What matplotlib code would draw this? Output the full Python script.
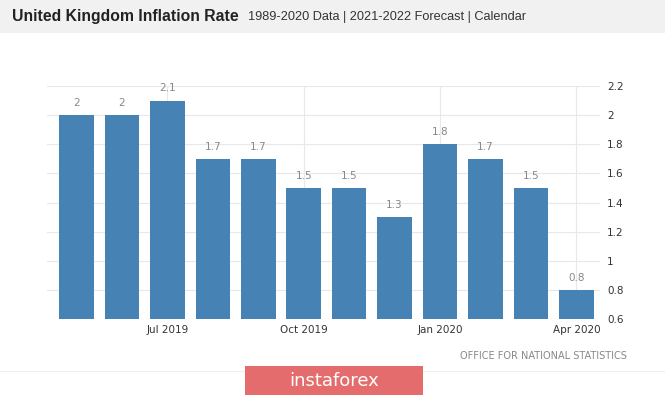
import numpy as np
import matplotlib.pyplot as plt
from matplotlib.patches import Rectangle

months = ["May 2019", "Jun 2019", "Jul 2019", "Aug 2019", "Sep 2019", "Oct 2019",
          "Nov 2019", "Dec 2019", "Jan 2020", "Feb 2020", "Mar 2020", "Apr 2020"]
inflation = [2.0, 2.0, 2.1, 1.7, 1.7, 1.5, 1.5, 1.3, 1.8, 1.7, 1.5, 0.8]
tick_idx = [2, 5, 8, 11]
yticks = [0.6, 0.8, 1.0, 1.2, 1.4, 1.6, 1.8, 2.0, 2.2]

W, H = 665, 397
fig = plt.figure(figsize=(W / 100, H / 100), dpi=100)
fig.patch.set_facecolor("white")

# header band
fig.patches.append(Rectangle((0, 1 - 33 / H), 1, 33 / H, transform=fig.transFigure,
                             facecolor="#f1f1f1", edgecolor="none", zorder=0))
fig.text(12 / W, 1 - 17 / H, "United Kingdom Inflation Rate", fontsize=11.3,
         fontweight="bold", color="#222222", va="center", ha="left",
         family="Liberation Sans")
fig.text(248 / W, 1 - 17 / H, "1989-2020 Data | 2021-2022 Forecast | Calendar",
         fontsize=9.2, color="#333333", va="center", ha="left",
         family="Liberation Sans")

ax = fig.add_axes([47 / W, (H - 319) / H, (600 - 47) / W, (319 - 86) / H])
x = np.arange(len(inflation))
bars = ax.bar(x, inflation, width=0.76, color="#4682b4", zorder=2)
for xi, v in zip(x, inflation):
    ax.text(xi, v + 0.05, f"{v:g}", ha="center", va="bottom", fontsize=7.5,
            color="#888888", zorder=3)

ax.set_xlim(-0.65, 11.52)
ax.set_ylim(0.6, 2.2)
ax.set_yticks(yticks)
ax.set_yticklabels([f"{t:g}" for t in yticks])
ax.yaxis.tick_right()
ax.set_xticks(tick_idx)
ax.set_xticklabels([months[i] for i in tick_idx])
ax.tick_params(axis="both", length=0, labelsize=7.5, colors="#333333")
ax.tick_params(axis="y", pad=5)
ax.tick_params(axis="x", pad=4)
ax.grid(True, color="#e8e8e8", linewidth=0.8, zorder=0)
for s in ax.spines.values():
    s.set_visible(False)

fig.text(627 / W, 1 - 356 / H, "OFFICE FOR NATIONAL STATISTICS", fontsize=7,
         color="#888888", ha="right", va="center")

# faint separator and watermark box
fig.add_artist(plt.Line2D([0, 1], [1 - 371 / H] * 2, color="#f0f0f0", linewidth=0.8))
fig.patches.append(Rectangle((245 / W, 2 / H), (423 - 245) / W, 29 / H,
                             transform=fig.transFigure, facecolor="#e46c6c",
                             edgecolor="none", zorder=3))
fig.text(334 / W, 1 - 381 / H, "instaforex", fontsize=13, color="white",
         ha="center", va="center", zorder=4)

fig.savefig("out.png", dpi=100)
